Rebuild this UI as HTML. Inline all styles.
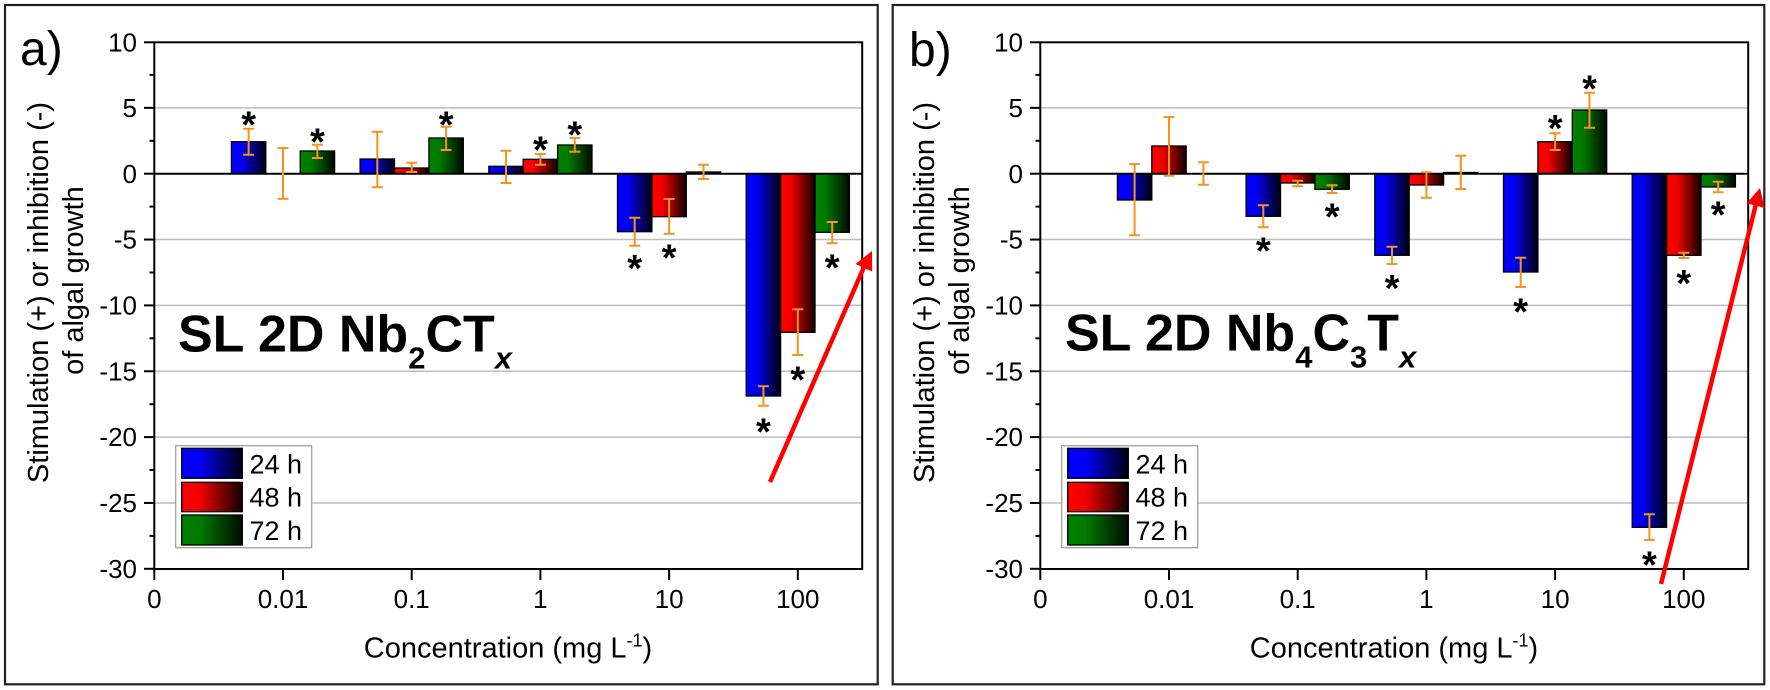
<!DOCTYPE html>
<html><head><meta charset="utf-8"><style>
html,body{margin:0;padding:0;background:#fff;}
svg{display:block;}
text{font-family:"Liberation Sans",Arial,sans-serif;fill:#000;}
</style></head><body>
<svg width="1770" height="690" viewBox="0 0 1770 690" xmlns="http://www.w3.org/2000/svg">
<defs>
<linearGradient id="gb" x1="0" y1="0" x2="1" y2="0"><stop offset="0" stop-color="#0000ff"/><stop offset="0.3" stop-color="#0000f2"/><stop offset="1" stop-color="#000010"/></linearGradient>
<linearGradient id="gr" x1="0" y1="0" x2="1" y2="0"><stop offset="0" stop-color="#ff0000"/><stop offset="0.3" stop-color="#f20000"/><stop offset="1" stop-color="#100000"/></linearGradient>
<linearGradient id="gg" x1="0" y1="0" x2="1" y2="0"><stop offset="0" stop-color="#008000"/><stop offset="0.3" stop-color="#007a00"/><stop offset="1" stop-color="#000a00"/></linearGradient>
<g id="axes">
<!-- gridlines -->
<g stroke="#bdbdbd" stroke-width="1.5">
<line x1="155.3" x2="861.2" y1="107.85" y2="107.85"/>
<line x1="155.3" x2="861.2" y1="239.55" y2="239.55"/>
<line x1="155.3" x2="861.2" y1="305.4" y2="305.4"/>
<line x1="155.3" x2="861.2" y1="371.25" y2="371.25"/>
<line x1="155.3" x2="861.2" y1="437.1" y2="437.1"/>
<line x1="155.3" x2="861.2" y1="502.95" y2="502.95"/>
</g>
</g>
<g id="axframe">
<rect x="154.3" y="42.3" width="707.9" height="526.7" fill="none" stroke="#000" stroke-width="2"/>
<g stroke="#000" stroke-width="2">
<line x1="144" x2="154.3" y1="42.3" y2="42.3"/>
<line x1="144" x2="154.3" y1="107.85" y2="107.85"/>
<line x1="144" x2="154.3" y1="173.7" y2="173.7"/>
<line x1="144" x2="154.3" y1="239.55" y2="239.55"/>
<line x1="144" x2="154.3" y1="305.4" y2="305.4"/>
<line x1="144" x2="154.3" y1="371.25" y2="371.25"/>
<line x1="144" x2="154.3" y1="437.1" y2="437.1"/>
<line x1="144" x2="154.3" y1="502.95" y2="502.95"/>
<line x1="144" x2="154.3" y1="568.8" y2="568.8"/>
<line x1="149.5" x2="154.3" y1="74.9" y2="74.9"/>
<line x1="149.5" x2="154.3" y1="140.8" y2="140.8"/>
<line x1="149.5" x2="154.3" y1="206.6" y2="206.6"/>
<line x1="149.5" x2="154.3" y1="272.5" y2="272.5"/>
<line x1="149.5" x2="154.3" y1="338.3" y2="338.3"/>
<line x1="149.5" x2="154.3" y1="404.2" y2="404.2"/>
<line x1="149.5" x2="154.3" y1="470.0" y2="470.0"/>
<line x1="149.5" x2="154.3" y1="535.9" y2="535.9"/>
<line x1="154.3" x2="154.3" y1="569" y2="580"/>
<line x1="283.0" x2="283.0" y1="569" y2="580"/>
<line x1="411.7" x2="411.7" y1="569" y2="580"/>
<line x1="540.4" x2="540.4" y1="569" y2="580"/>
<line x1="669.1" x2="669.1" y1="569" y2="580"/>
<line x1="797.8" x2="797.8" y1="569" y2="580"/>
</g>
<g font-size="26" text-anchor="end">
<text x="137" y="51.3">10</text>
<text x="137" y="117">5</text>
<text x="137" y="183">0</text>
<text x="137" y="248.7">-5</text>
<text x="137" y="314.5">-10</text>
<text x="137" y="380.4">-15</text>
<text x="137" y="446.2">-20</text>
<text x="137" y="512">-25</text>
<text x="137" y="578">-30</text>
</g>
<g font-size="26" text-anchor="middle">
<text x="154.3" y="608">0</text>
<text x="283.0" y="608">0.01</text>
<text x="411.7" y="608">0.1</text>
<text x="540.4" y="608">1</text>
<text x="669.1" y="608">10</text>
<text x="797.8" y="608">100</text>
</g>
<text x="508" y="657.5" font-size="29" text-anchor="middle">Concentration (mg L<tspan font-size="18" dy="-11">-1</tspan><tspan dy="11">)</tspan></text>
<text transform="translate(48,292.5) rotate(-90)" font-size="29" text-anchor="middle">Stimulation (+) or inhibition (-)</text>
<text transform="translate(83,280.6) rotate(-90)" font-size="29" text-anchor="middle">of algal growth</text>
<!-- legend -->
<rect x="175.7" y="445.7" width="136" height="102" fill="#fff" stroke="#999" stroke-width="1.2"/>
<rect x="181.7" y="448.3" width="60.6" height="30" fill="url(#gb)" stroke="#000" stroke-width="1.3"/>
<rect x="181.7" y="482.3" width="60.6" height="29.4" fill="url(#gr)" stroke="#000" stroke-width="1.3"/>
<rect x="181.7" y="515" width="60.6" height="30" fill="url(#gg)" stroke="#000" stroke-width="1.3"/>
<g font-size="27">
<text x="249.5" y="473.3">24 h</text>
<text x="249.5" y="506.7">48 h</text>
<text x="249.5" y="540">72 h</text>
</g>
</g>
</defs>

<!-- frames -->
<rect x="5" y="5" width="872.7" height="679.3" fill="#fff" stroke="#222" stroke-width="2.2"/>
<rect x="892.7" y="5" width="871.6" height="679.3" fill="#fff" stroke="#222" stroke-width="2.2"/>

<!-- ================= PANEL A ================= -->
<use href="#axes"/>
<g stroke="#000" stroke-width="1.3">
<rect x="231.4" y="141.7" width="34.4" height="32" fill="url(#gb)"/>
<rect x="360.1" y="159" width="34.4" height="14.7" fill="url(#gb)"/>
<rect x="488.8" y="166.3" width="34.4" height="7.4" fill="url(#gb)"/>
<rect x="617.5" y="173.7" width="34.4" height="58" fill="url(#gb)"/>
<rect x="746.2" y="173.7" width="34.4" height="222.3" fill="url(#gb)"/>
<rect x="394.5" y="168" width="34.4" height="5.7" fill="url(#gr)"/>
<rect x="523.2" y="159.3" width="34.4" height="14.4" fill="url(#gr)"/>
<rect x="651.9" y="173.7" width="34.4" height="43" fill="url(#gr)"/>
<rect x="780.6" y="173.7" width="34.4" height="158.6" fill="url(#gr)"/>
<rect x="300.2" y="151" width="34.4" height="22.7" fill="url(#gg)"/>
<rect x="428.9" y="138" width="34.4" height="35.7" fill="url(#gg)"/>
<rect x="557.6" y="145" width="34.4" height="28.7" fill="url(#gg)"/>
<rect x="686.3" y="172" width="34.4" height="1.7" fill="url(#gg)"/>
<rect x="815" y="173.7" width="34.4" height="58.6" fill="url(#gg)"/>
</g>
<line x1="154.3" x2="862.2" y1="173.7" y2="173.7" stroke="#000" stroke-width="2"/>
<path fill="none" stroke="#f7931e" stroke-width="2" d="
M243.1 128.7H254.1M248.6 128.7V154.7M243.1 154.7H254.1
M277.5 148H288.5M283 148V198.7M277.5 198.7H288.5
M311.9 144.7H322.9M317.4 144.7V158M311.9 158H322.9
M371.8 131.7H382.8M377.3 131.7V187.3M371.8 187.3H382.8
M406.2 162.7H417.2M411.7 162.7V172M406.2 172H417.2
M440.6 126.7H451.6M446.1 126.7V150M440.6 150H451.6
M500.5 150.7H511.5M506 150.7V183M500.5 183H511.5
M534.9 154H545.9M540.4 154V164.7M534.9 164.7H545.9
M569.3 138H580.3M574.8 138V151.7M569.3 151.7H580.3
M629.2 217.7H640.2M634.7 217.7V245.7M629.2 245.7H640.2
M663.6 199H674.6M669.1 199V233.7M663.6 233.7H674.6
M698 164.7H709M703.5 164.7V179M698 179H709
M757.9 386.3H768.9M763.4 386.3V405.7M757.9 405.7H768.9
M792.3 309.3H803.3M797.8 309.3V355M792.3 355H803.3
M826.7 222H837.7M832.2 222V243.3M826.7 243.3H837.7"/>
<use href="#axframe"/>
<g font-size="38" font-weight="bold" text-anchor="middle">
<text x="248.6" y="137.7">*</text>
<text x="317.4" y="154.3">*</text>
<text x="446.1" y="137.7">*</text>
<text x="540.4" y="162.7">*</text>
<text x="574.8" y="147.7">*</text>
<text x="634.7" y="281">*</text>
<text x="669.1" y="270.3">*</text>
<text x="763.4" y="444.3">*</text>
<text x="797.8" y="392.7">*</text>
<text x="832.2" y="280.3">*</text>
</g>
<text x="178" y="351.5" font-size="52" font-weight="bold">SL 2D Nb<tspan font-size="31" dy="17">2</tspan><tspan dy="-17">CT</tspan><tspan font-size="31" font-style="italic" dy="17">x</tspan></text>
<text x="20" y="65" font-size="48">a)</text>
<line x1="770" y1="482" x2="864" y2="267" stroke="#ff0000" stroke-width="4.5"/>
<polygon points="872,251 872.2,271.5 855.5,264" fill="#ff0000"/>

<!-- ================= PANEL B ================= -->
<g transform="translate(886,0)"><use href="#axes"/></g>
<g stroke="#000" stroke-width="1.3">
<rect x="1117.4" y="173.7" width="34.4" height="26.3" fill="url(#gb)"/>
<rect x="1246.1" y="173.7" width="34.4" height="42.6" fill="url(#gb)"/>
<rect x="1374.8" y="173.7" width="34.4" height="81.6" fill="url(#gb)"/>
<rect x="1503.5" y="173.7" width="34.4" height="98.3" fill="url(#gb)"/>
<rect x="1632.2" y="173.7" width="34.4" height="353.6" fill="url(#gb)"/>
<rect x="1151.8" y="146" width="34.4" height="27.7" fill="url(#gr)"/>
<rect x="1280.5" y="173.7" width="34.4" height="9.3" fill="url(#gr)"/>
<rect x="1409.2" y="173.7" width="34.4" height="11.3" fill="url(#gr)"/>
<rect x="1537.9" y="141.7" width="34.4" height="32" fill="url(#gr)"/>
<rect x="1666.6" y="173.7" width="34.4" height="81.6" fill="url(#gr)"/>
<rect x="1314.9" y="173.7" width="34.4" height="15.6" fill="url(#gg)"/>
<rect x="1443.6" y="172.5" width="34.4" height="1.2" fill="url(#gg)"/>
<rect x="1572.3" y="110" width="34.4" height="63.7" fill="url(#gg)"/>
<rect x="1701" y="173.7" width="34.4" height="13.3" fill="url(#gg)"/>
</g>
<line x1="1040.3" x2="1748.2" y1="173.7" y2="173.7" stroke="#000" stroke-width="2"/>
<path fill="none" stroke="#f7931e" stroke-width="2" d="
M1129.1 164H1140.1M1134.6 164V235.3M1129.1 235.3H1140.1
M1163.5 117H1174.5M1169 117V175.7M1163.5 175.7H1174.5
M1197.9 162.3H1208.9M1203.4 162.3V184.7M1197.9 184.7H1208.9
M1257.8 205.3H1268.8M1263.3 205.3V227.3M1257.8 227.3H1268.8
M1292.2 180.7H1303.2M1297.7 180.7V186.3M1292.2 186.3H1303.2
M1326.6 185.3H1337.6M1332.1 185.3V193M1326.6 193H1337.6
M1386.5 246.7H1397.5M1392 246.7V264M1386.5 264H1397.5
M1420.9 172.3H1431.9M1426.4 172.3V197.7M1420.9 197.7H1431.9
M1455.3 155.7H1466.3M1460.8 155.7V189M1455.3 189H1466.3
M1515.2 257.7H1526.2M1520.7 257.7V287M1515.2 287H1526.2
M1549.6 133.3H1560.6M1555.1 133.3V150M1549.6 150H1560.6
M1584 92.7H1595M1589.5 92.7V127.7M1584 127.7H1595
M1643.9 514.3H1654.9M1649.4 514.3V540M1643.9 540H1654.9
M1678.3 252.7H1689.3M1683.8 252.7V258M1678.3 258H1689.3
M1712.7 181.7H1723.7M1718.2 181.7V192.3M1712.7 192.3H1723.7"/>
<g transform="translate(886,0)"><use href="#axframe"/></g>
<g font-size="38" font-weight="bold" text-anchor="middle">
<text x="1263.3" y="263.7">*</text>
<text x="1332.1" y="229.3">*</text>
<text x="1392" y="301">*</text>
<text x="1520.7" y="324.3">*</text>
<text x="1555.1" y="141">*</text>
<text x="1589.5" y="101.7">*</text>
<text x="1649.4" y="577.7">*</text>
<text x="1683.8" y="296">*</text>
<text x="1718.2" y="227.7">*</text>
</g>
<text x="1065" y="350.7" font-size="52" font-weight="bold">SL 2D Nb<tspan font-size="31" dy="17">4</tspan><tspan dy="-17">C</tspan><tspan font-size="31" dy="17">3</tspan><tspan dy="-17">T</tspan><tspan font-size="31" font-style="italic" dy="17">x</tspan></text>
<text x="909" y="66" font-size="48">b)</text>
<line x1="1661" y1="584" x2="1755.6" y2="205.5" stroke="#ff0000" stroke-width="4.5"/>
<polygon points="1760,188 1764.6,208 1746.6,203.3" fill="#ff0000"/>
</svg>
</body></html>
